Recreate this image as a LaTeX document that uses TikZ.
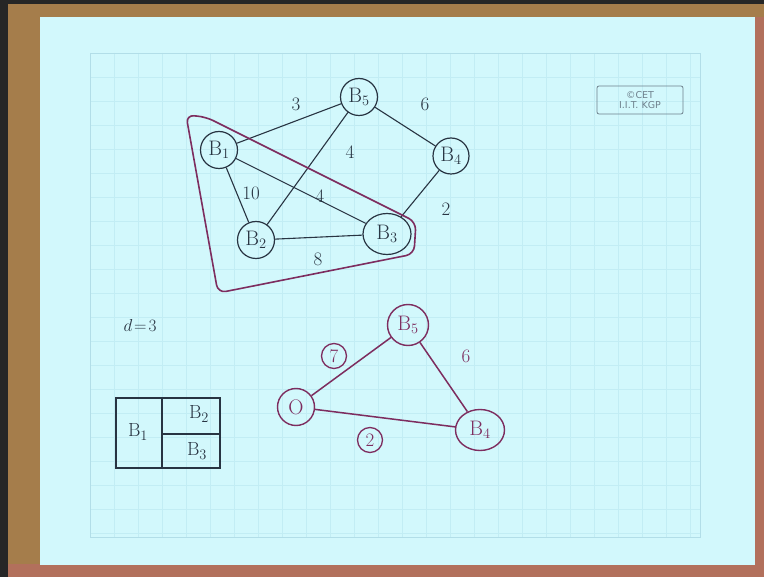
\documentclass[tikz,border=0pt]{standalone}
\usepackage{fontspec}
\setsansfont{DejaVu Sans}
\usetikzlibrary{shapes.geometric}
\definecolor{paper}{RGB}{210,248,252}
\definecolor{gridc}{RGB}{194,237,244}
\definecolor{borderc}{RGB}{178,222,232}
\definecolor{ink}{RGB}{40,52,66}
\definecolor{purp}{RGB}{125,45,95}
\definecolor{wood}{RGB}{165,125,75}
\definecolor{woodb}{RGB}{178,112,92}
\definecolor{logoc}{RGB}{110,128,140}
\tikzset{
  vert/.style={circle,draw=ink,line width=1.2pt,minimum size=37pt,inner sep=0pt,text=ink,font=\fontsize{21}{24}\selectfont},
  pvert/.style={vert,draw=purp,text=purp,line width=1.4pt},
  edge/.style={draw=ink,line width=1.1pt},
  pedge/.style={draw=purp,line width=1.5pt},
  wlab/.style={text=ink,font=\fontsize{19}{21}\selectfont},
  plab/.style={text=purp,font=\fontsize{19}{21}\selectfont},
  cwlab/.style={circle,draw=purp,line width=1.3pt,text=purp,minimum size=25pt,inner sep=0pt,font=\fontsize{19}{21}\selectfont},
  tlab/.style={text=ink,font=\fontsize{19}{21}\selectfont}
}
\begin{document}
\begin{tikzpicture}[x=1pt,y=-1pt]
\useasboundingbox (0,0) rectangle (764,577);
% frame
\fill[black!85] (0,0) rectangle (764,577);
\fill[wood] (8,4) rectangle (764,17);
\fill[wood] (8,4) rectangle (40,577);
\fill[woodb] (8,564) rectangle (764,577);
\fill[woodb] (755,17) rectangle (764,577);
\fill[paper] (40,17) rectangle (755,565);
% grid
\begin{scope}
\clip (90,53) rectangle (700,537);
\foreach \gx in {90,114,...,700} \draw[gridc,line width=0.6pt] (\gx,53) -- (\gx,537);
\foreach \gy in {53,77,...,537} \draw[gridc,line width=0.6pt] (90,\gy) -- (700,\gy);
\end{scope}
\draw[borderc,line width=0.8pt] (90,53) rectangle (700,537);
% logo
\node[draw=logoc,rounded corners=2pt,line width=0.8pt,minimum width=86pt,minimum height=28pt,inner sep=1pt,align=center,text=logoc,font=\sffamily\fontsize{9.5}{10}\selectfont] (logo) at (640,100) {\textcopyright CET\\I.I.T. KGP};
% top graph
\node[vert] (t5) at (359,97) {B$_5$};
\node[vert] (t1) at (219,150) {B$_1$};
\node[vert,minimum size=36pt] (t4) at (451,156) {B$_4$};
\node[vert] (t2) at (256,240) {B$_2$};
\node[vert,ellipse,minimum width=48pt,minimum height=41pt] (t3) at (387,234) {B$_3$};
\draw[edge] (t1) -- (t5);
\draw[edge] (t5) -- (t4);
\draw[edge] (t5) -- (t2);
\draw[edge] (t1) -- (t3);
\draw[edge] (t1) -- (t2);
\draw[edge] (t2) -- (t3);
\draw[edge] (t4) -- (t3);
\node[wlab] (w15) at (296,104) {3};
\node[wlab] (w54) at (425,104) {6};
\node[wlab] (w52) at (350,152) {4};
\node[wlab] (w13) at (320,196) {4};
\node[wlab] (w12) at (251,193) {10};
\node[wlab] (w23) at (318,259) {8};
\node[wlab] (w43) at (446,209) {2};
% enclosure
\draw[purp,line width=1.6pt,rounded corners=8pt] (186,115) -- (206,117) -- (416,222) -- (414,254) -- (218,293) -- cycle;
% d=3
\node[tlab] (dlab) at (140,326) {$d\!=\!3$};
% table
\coordinate (tbA) at (116,398);
\coordinate (tbB) at (220,468);
\coordinate (tbV1) at (162,398);
\coordinate (tbV2) at (162,468);
\coordinate (tbH1) at (162,434);
\coordinate (tbH2) at (220,434);
\draw[ink,line width=1.1pt] (tbA) rectangle (tbB);
\draw[ink,line width=1.1pt] (tbV1) -- (tbV2);
\draw[ink,line width=1.1pt] (tbH1) -- (tbH2);
\node[tlab] (c1) at (138,432) {B$_1$};
\node[tlab] (c2) at (199,414) {B$_2$};
\node[tlab] (c3) at (197,451) {B$_3$};
% bottom graph
\node[pvert,minimum size=41pt] (b5) at (408,325) {B$_5$};
\node[pvert] (bq) at (296,407) {O};
\node[pvert,ellipse,minimum width=49pt,minimum height=41pt] (b4) at (480,430) {B$_4$};
\draw[pedge] (bq) -- (b5);
\draw[pedge] (b5) -- (b4);
\draw[pedge] (bq) -- (b4);
\node[cwlab] (p7) at (334,356) {7};
\node[cwlab] (p2) at (370,440) {2};
\node[plab] (p6) at (466,356) {6};
\end{tikzpicture}
\end{document}
